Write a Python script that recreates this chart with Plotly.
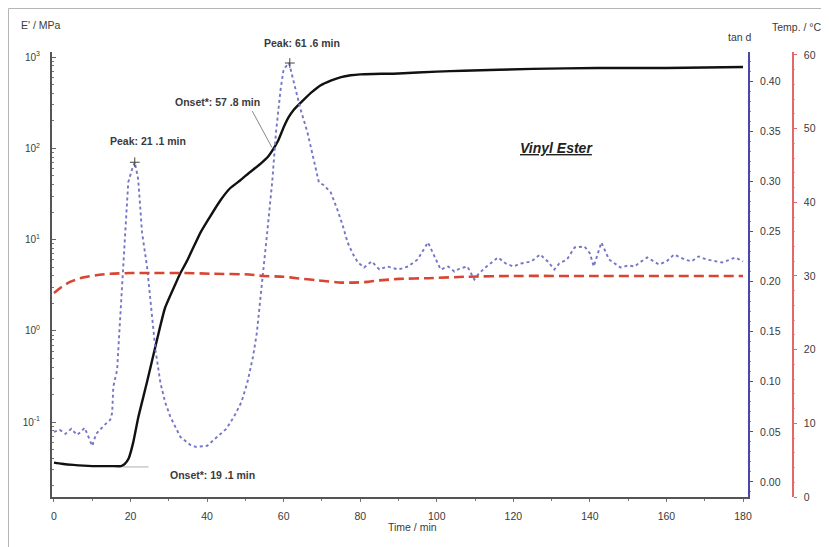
import plotly.graph_objects as go

# ---------------- data ----------------
time_E = [0, 2, 5, 10, 15, 17.5, 18.5, 19.5, 20.7, 22, 24.3, 27, 29, 31.7, 33, 34.8, 38.3, 40,
          43.5, 46, 48.7, 51, 54, 56, 57.4, 58.5, 60, 61.3, 62.6, 65.2, 67.5, 69.7, 72.3, 75,
          77.5, 80, 90, 100, 107, 125, 142, 160, 180]
storage_modulus = [0.036, 0.035, 0.034, 0.033, 0.033, 0.033, 0.035, 0.040, 0.060, 0.112, 0.275,
                   0.83, 1.78, 3.24, 4.27, 5.9, 12.0, 15.8, 27.0, 36.5, 44.7, 54, 68, 82, 100, 120,
                   170, 219, 263, 339, 417, 490, 550, 603, 631, 646, 661, 692, 708, 741, 759, 759, 776]

time_tan = [0, 1.5, 3, 4.5, 6, 7, 8, 9, 10, 11, 12.6, 13.5, 14.7, 15.2, 15.5, 16.5, 16.8, 17.3,
            17.8, 18.6, 19.4, 20.4, 21.1, 22, 23, 24.3, 25.1, 26.5, 27.8, 29, 30.4, 33, 35.6,
            37, 40, 42.7, 45, 47, 49, 50.5, 52, 53, 54.4, 55.7, 57, 58, 59.2, 60, 61.4, 63.1,
            64.4, 66.2, 67.9, 69.2, 70.5, 72.3, 74, 75.5, 76.7, 78, 79.4, 81, 83, 85, 87, 90,
            92.5, 95, 97.7, 99.4, 101, 103, 104.6, 106, 108, 109.8, 111, 113, 116, 118, 120,
            122, 124.7, 127, 129, 130.7, 132, 134, 136, 138.6, 140, 141, 143, 145, 146.5, 148,
            150, 151.7, 153, 155, 158, 160, 162, 164.8, 166.5, 168.4, 170.5, 172.7, 174.5, 176,
            178, 180]
tan_delta = [0.050, 0.052, 0.048, 0.053, 0.047, 0.050, 0.054, 0.045, 0.036, 0.048, 0.055, 0.058,
             0.062, 0.069, 0.095, 0.112, 0.132, 0.165, 0.199, 0.249, 0.299, 0.312, 0.319, 0.302,
             0.249, 0.215, 0.182, 0.132, 0.099, 0.080, 0.065, 0.045, 0.037, 0.035, 0.036, 0.045,
             0.053, 0.065, 0.080, 0.099, 0.125, 0.149, 0.199, 0.249, 0.299, 0.349, 0.392, 0.412,
             0.418, 0.392, 0.372, 0.349, 0.322, 0.299, 0.296, 0.289, 0.272, 0.255, 0.239, 0.228,
             0.219, 0.214, 0.220, 0.212, 0.215, 0.212, 0.215, 0.222, 0.239, 0.225, 0.212, 0.215,
             0.210, 0.213, 0.215, 0.202, 0.208, 0.215, 0.224, 0.218, 0.215, 0.218, 0.220, 0.227,
             0.220, 0.212, 0.218, 0.222, 0.234, 0.235, 0.228, 0.215, 0.239, 0.222, 0.218, 0.214,
             0.216, 0.215, 0.219, 0.224, 0.217, 0.220, 0.227, 0.222, 0.220, 0.225, 0.222, 0.220,
             0.219, 0.221, 0.224, 0.220]

time_T = [0, 2, 4.2, 7.6, 11, 14.7, 20, 25, 33.8, 41.5, 51, 54.6, 60, 63.4, 69, 75, 78, 82, 85,
          90, 98, 108, 120, 140, 160, 180]
temperature = [27.7, 28.5, 29.2, 29.8, 30.1, 30.3, 30.4, 30.4, 30.4, 30.3, 30.2, 30.0, 29.9, 29.7,
               29.4, 29.1, 29.1, 29.2, 29.4, 29.6, 29.7, 29.9, 30.0, 30.0, 30.0, 30.0]

peak_times = [21.1, 61.6]
peak_tand = [0.319, 0.418]
peak_labels = ["Peak: 21 .1 min", "Peak: 61 .6 min"]
onset_labels = ["Onset*: 19 .1 min", "Onset*: 57 .8 min"]

x_ticks = [0, 20, 40, 60, 80, 100, 120, 140, 160, 180]
e_tickvals = [0.1, 1, 10, 100, 1000]
e_ticktext = ["10<sup>-1</sup>", "10<sup>0</sup>", "10<sup>1</sup>", "10<sup>2</sup>", "10<sup>3</sup>"]
e_minor = [m * 10 ** k for k in range(-2, 3) for m in range(2, 10)]

# ---------------- layout constants ----------------
# the html page adds an 8px body margin, so the figure is drawn 8px in from the corner
OFF = 8
W, H = 829 - OFF, 547 - OFF
ML, MT = 52 - OFF, 52 - OFF
PLOT_R, PLOT_B = 748 - OFF, 497 - OFF
MR = 30
PW = W - ML - MR
MB = H - PLOT_B
PH = H - MT - MB


def px(xp):  # page x pixel -> paper fraction
    return (xp - OFF - ML) / PW


def py(yp):  # page y pixel -> paper fraction
    return (PLOT_B - (yp - OFF)) / PH


FONT = "Liberation Sans, Arial, sans-serif"
TXT = "#3a3a3a"

fig = go.Figure()

fig.add_trace(go.Scatter(x=time_T, y=temperature, yaxis="y3", mode="lines",
                         line=dict(color="#d84532", width=2.6, dash="10px,5px", shape="spline",
                                   smoothing=0.6),
                         hoverinfo="skip", showlegend=False))
fig.add_trace(go.Scatter(x=time_tan, y=tan_delta, yaxis="y2", mode="lines",
                         line=dict(color="#7676c8", width=1.9, dash="dot"),
                         hoverinfo="skip", showlegend=False))
fig.add_trace(go.Scatter(x=time_E, y=storage_modulus, yaxis="y", mode="lines",
                         line=dict(color="#111111", width=2.4, shape="spline", smoothing=0.5),
                         hoverinfo="skip", showlegend=False))
fig.add_trace(go.Scatter(x=peak_times, y=peak_tand, yaxis="y2", mode="markers",
                         marker=dict(symbol="cross-thin", size=7, line=dict(color="#444", width=1)),
                         hoverinfo="skip", showlegend=False))

fig.update_layout(
    width=W, height=H,
    margin=dict(l=ML, r=MR, t=MT, b=MB),
    paper_bgcolor="white", plot_bgcolor="white",
    font=dict(family=FONT, size=10, color=TXT),
    xaxis=dict(domain=[0, (PLOT_R - ML) / PW], range=[-0.52, 181.3], tickvals=x_ticks,
               showgrid=False, zeroline=False, showline=True, linecolor="#555555", linewidth=2,
               ticks="outside", ticklen=3, tickcolor="#777", tickfont=dict(size=10.5, color=TXT),
               ticklabelstandoff=5,
               minor=dict(dtick=10, ticks="outside", ticklen=2, tickcolor="#777")),
    yaxis=dict(type="log", range=[-1.82, 3.055], tickvals=e_tickvals, ticktext=e_ticktext,
               showgrid=False, zeroline=False, showline=True, linecolor="#555555", linewidth=2,
               ticks="inside", ticklen=4, tickcolor="#666", tickfont=dict(size=10, color=TXT),
               ticklabelstandoff=8,
               minor=dict(tickvals=e_minor, ticks="inside", ticklen=2, tickcolor="#777")),
    yaxis2=dict(overlaying="y", side="right", anchor="x", range=[-0.015, 0.429],
                tick0=0, dtick=0.05, tickformat=".2f", showgrid=False, zeroline=False,
                showline=True, linecolor="#4848a8", linewidth=2, ticks="outside", ticklen=3,
                tickcolor="#4848a8", tickfont=dict(size=10.5, color=TXT), ticklabelstandoff=5,
                minor=dict(dtick=0.01, ticks="outside", ticklen=1, tickcolor="#8888c8")),
    yaxis3=dict(overlaying="y", side="right", anchor="free", position=px(793), range=[0, 60.4],
                tick0=0, dtick=10, showgrid=False, zeroline=False,
                showline=True, linecolor="#e06a6a", linewidth=1.5, ticks="outside", ticklen=3,
                tickcolor="#e06a6a", tickfont=dict(size=10.5, color=TXT), ticklabelstandoff=5,
                minor=dict(dtick=2, ticks="outside", ticklen=1, tickcolor="#f0a0a0")),
)


def label(text, x, y, xref="paper", yref="paper", size=10.5, color=TXT):
    return dict(text=text, xref=xref, yref=yref, x=x, y=y, xanchor="center", yanchor="middle",
                showarrow=False, font=dict(size=size, color=color))


ann = [
    # axis titles
    label("E' / MPa", px(41), py(25)),
    label("tan d", px(740), py(37)),
    label("Temp. / °C", px(797), py(27)),
    label("Time / min", px(412), py(527)),
    # peak labels
    label("<b>" + peak_labels[0] + "</b>", peak_times[0] + 3.4, peak_tand[0] + 0.021, "x", "y2"),
    label("<b>" + peak_labels[1] + "</b>", peak_times[1] + 3.2, py(43), "x", "paper"),
    # onset labels
    label("<b>" + onset_labels[1] + "</b>", 42.8, 0.379, "x", "y2"),
    label("<b>" + onset_labels[0] + "</b>", 41.3, 0.007, "x", "y2"),
    label("<b><i><u>Vinyl Ester</u></i></b>", 131.3, 0.333, "x", "y2", size=14, color="#222"),
]
fig.update_layout(annotations=ann)

shapes = [
    # onset 57.8 leader line
    dict(type="line", xref="x", yref="y2", x0=51.8, y0=0.370, x1=56.9, y1=0.334,
         line=dict(color="#888", width=1)),
    # onset 19.1 baseline tangent
    dict(type="line", xref="x", yref="y2", x0=18.0, y0=0.015, x1=24.7, y1=0.015,
         line=dict(color="#bbbbbb", width=1.2)),
    # outer frame
    dict(type="rect", xref="paper", yref="paper", x0=px(8.5), x1=px(845), y0=py(570), y1=py(8.5),
         line=dict(color="#b5b5b5", width=1), fillcolor="rgba(0,0,0,0)", layer="below"),
]
fig.update_layout(shapes=shapes)

fig.write_html("out.html")
